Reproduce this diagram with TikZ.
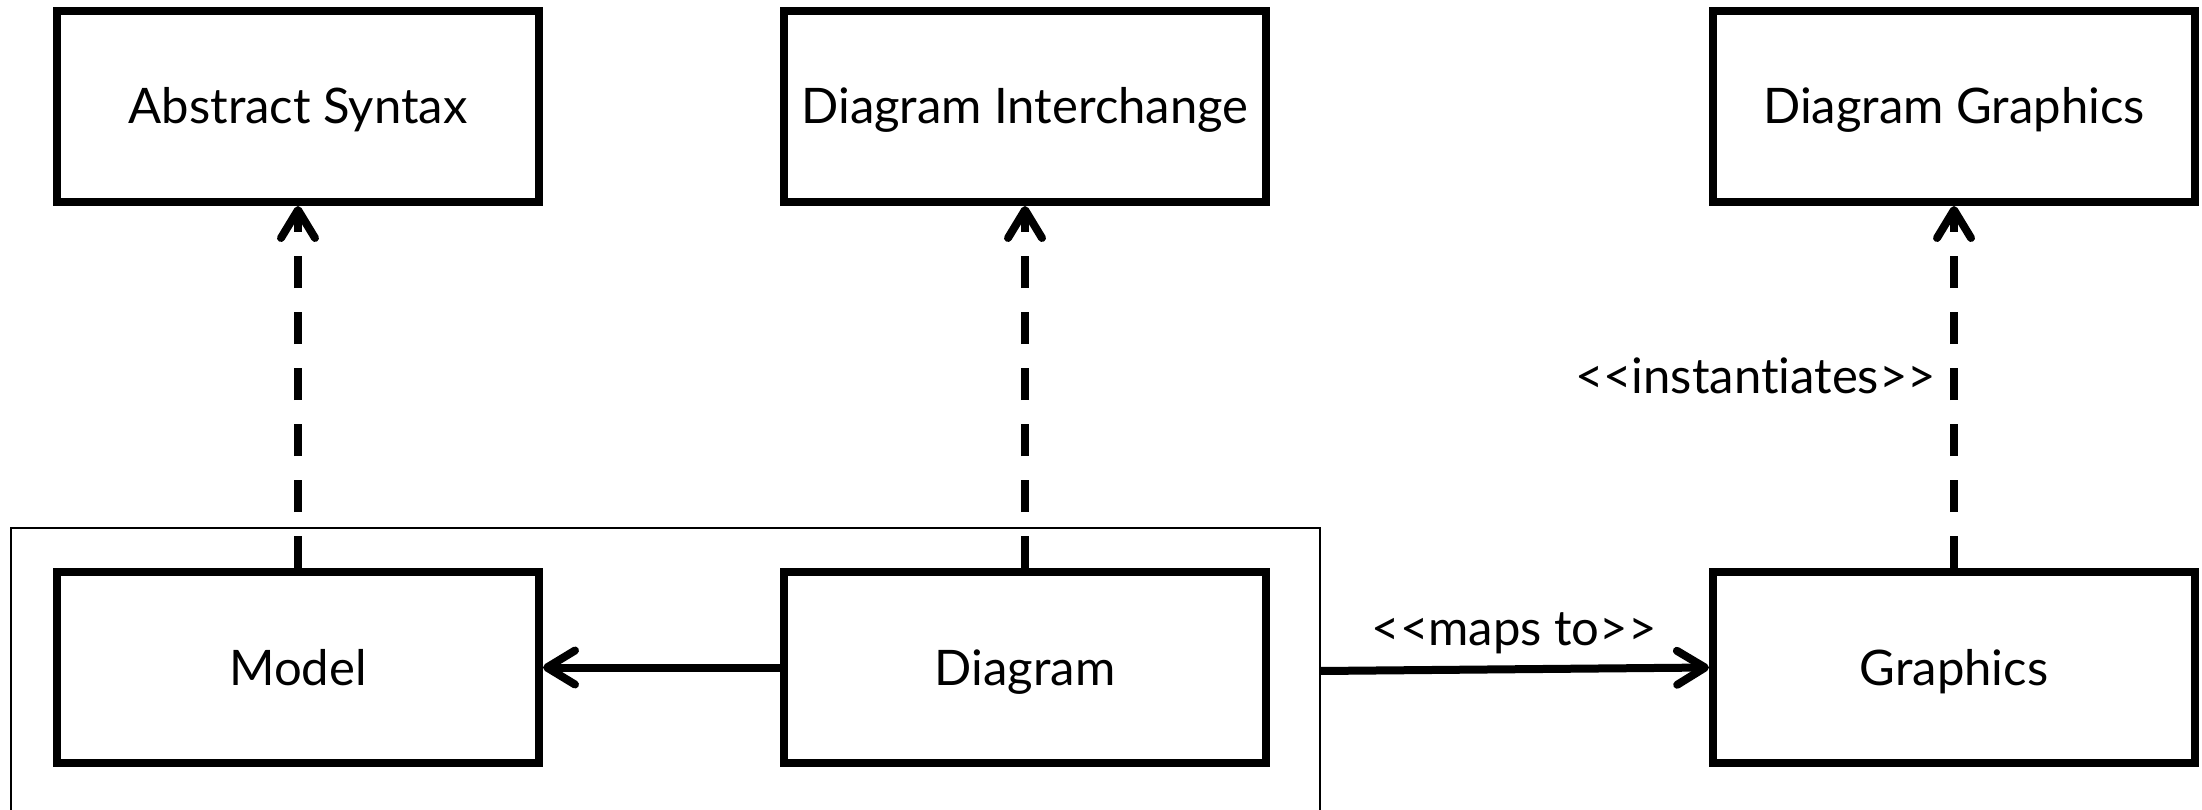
\documentclass[tikz,border=0pt]{standalone}
\usepackage{fontspec}
\setmainfont{Lato}[Ligatures={NoCommon}]
\usetikzlibrary{arrows.meta}
\begin{document}
\begin{tikzpicture}[x=1pt,y=-1pt,
  box/.style={draw, line width=8pt, rectangle, minimum width=482pt, minimum height=191pt,
    inner sep=0pt, font=\fontsize{49}{58}\selectfont, text height=35pt, text depth=0pt},
  lbl/.style={font=\fontsize{49}{58}\selectfont, inner sep=0pt},
  tipv/.style={-{Straight Barb[length=28pt,width=34pt,line cap=round,line join=round]}},
  dep/.style={line width=8pt, dash pattern=on 32pt off 24pt, tipv},
  assoc/.style={line width=8pt, tipv}]
\useasboundingbox (0,0) rectangle (2202,810);
\fill[white] (0,0) rectangle (2202,810);
\draw[line width=2pt] (11,815) -- (11,528) -- (1320,528) -- (1320,815);
\node[box] (abs) at (298,106.5) {Abstract Syntax};
\node[box] (di) at (1025,106.5) {Diagram Interchange};
\node[box] (dg) at (1954,106.5) {Diagram Graphics};
\node[box] (model) at (298,667.5) {Model};
\node[box] (diag) at (1025,667.5) {Diagram};
\node[box] (gfx) at (1954,667.5) {Graphics};
\coordinate (ms) at (1320,671);
\draw[dep] (model.north) -- (abs.south);
\draw[dep] (diag.north) -- (di.south);
\draw[dep] (gfx.north) -- (dg.south);
\draw[assoc] (diag.west) -- (model.east);
\draw[assoc] (ms) -- (gfx.west);
\node[lbl, anchor=base] (mapslbl) at (1514,645) {<\kern0pt<maps to>\kern0pt>};
\node[lbl, anchor=base east] (instlbl) at (1936,393) {<\kern0pt<instantiates>\kern0pt>};
\end{tikzpicture}
\end{document}
